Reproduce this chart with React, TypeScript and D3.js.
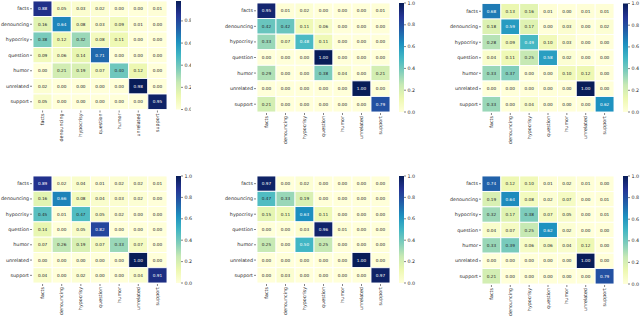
import React, { useEffect, useRef } from 'react';
import * as d3 from 'd3';

const labels = ['facts', 'denouncing', 'hypocrisy', 'question', 'humor', 'unrelated', 'support'];

const matrixA = [
  [0.88, 0.05, 0.03, 0.02, 0.00, 0.00, 0.01],
  [0.16, 0.64, 0.08, 0.03, 0.09, 0.01, 0.00],
  [0.38, 0.12, 0.32, 0.08, 0.11, 0.00, 0.00],
  [0.09, 0.06, 0.14, 0.71, 0.00, 0.00, 0.00],
  [0.00, 0.21, 0.19, 0.07, 0.40, 0.12, 0.00],
  [0.02, 0.00, 0.00, 0.00, 0.00, 0.98, 0.00],
  [0.05, 0.00, 0.00, 0.00, 0.00, 0.00, 0.95],
];
const matrixB = [
  [0.95, 0.01, 0.02, 0.00, 0.00, 0.00, 0.01],
  [0.42, 0.42, 0.11, 0.06, 0.00, 0.00, 0.00],
  [0.33, 0.07, 0.48, 0.11, 0.00, 0.00, 0.00],
  [0.00, 0.00, 0.00, 1.00, 0.00, 0.00, 0.00],
  [0.29, 0.00, 0.00, 0.38, 0.04, 0.00, 0.21],
  [0.00, 0.00, 0.00, 0.00, 0.00, 1.00, 0.00],
  [0.21, 0.00, 0.00, 0.00, 0.00, 0.00, 0.79],
];
const matrixC = [
  [0.68, 0.13, 0.16, 0.01, 0.00, 0.01, 0.01],
  [0.18, 0.59, 0.17, 0.00, 0.03, 0.00, 0.02],
  [0.28, 0.09, 0.49, 0.10, 0.03, 0.00, 0.00],
  [0.04, 0.11, 0.25, 0.58, 0.02, 0.00, 0.00],
  [0.33, 0.37, 0.00, 0.00, 0.10, 0.12, 0.00],
  [0.00, 0.00, 0.00, 0.00, 0.00, 1.00, 0.00],
  [0.33, 0.00, 0.04, 0.00, 0.00, 0.00, 0.62],
];
const matrixD = [
  [0.89, 0.02, 0.04, 0.01, 0.02, 0.02, 0.01],
  [0.16, 0.66, 0.08, 0.04, 0.03, 0.02, 0.00],
  [0.45, 0.01, 0.47, 0.05, 0.02, 0.00, 0.00],
  [0.14, 0.00, 0.05, 0.82, 0.00, 0.00, 0.00],
  [0.07, 0.26, 0.19, 0.07, 0.33, 0.07, 0.00],
  [0.00, 0.00, 0.00, 0.00, 0.00, 1.00, 0.00],
  [0.04, 0.00, 0.02, 0.00, 0.00, 0.04, 0.91],
];
const matrixE = [
  [0.97, 0.00, 0.02, 0.00, 0.00, 0.00, 0.00],
  [0.47, 0.33, 0.19, 0.00, 0.00, 0.00, 0.00],
  [0.15, 0.11, 0.63, 0.11, 0.00, 0.00, 0.00],
  [0.00, 0.00, 0.03, 0.96, 0.01, 0.00, 0.00],
  [0.25, 0.00, 0.50, 0.25, 0.00, 0.00, 0.00],
  [0.00, 0.00, 0.00, 0.00, 0.00, 1.00, 0.00],
  [0.00, 0.03, 0.00, 0.00, 0.00, 0.00, 0.97],
];
const matrixF = [
  [0.74, 0.12, 0.10, 0.01, 0.02, 0.01, 0.00],
  [0.19, 0.64, 0.08, 0.02, 0.07, 0.00, 0.01],
  [0.32, 0.17, 0.38, 0.07, 0.05, 0.00, 0.01],
  [0.04, 0.07, 0.25, 0.62, 0.02, 0.00, 0.00],
  [0.33, 0.39, 0.06, 0.06, 0.04, 0.12, 0.00],
  [0.00, 0.00, 0.00, 0.00, 0.00, 1.00, 0.00],
  [0.21, 0.00, 0.00, 0.00, 0.00, 0.00, 0.79],
];

const colorbarTicks = [0, 0.2, 0.4, 0.6, 0.8, 1.0];

// matplotlib YlGnBu (ColorBrewer 9-class, linear)
const ylgnbu = ['#ffffd9', '#edf8b1', '#c7e9b4', '#7fcdbb', '#41b6c4', '#1d91c0', '#225ea8', '#253494', '#081d58'];

const matrices = [matrixA, matrixB, matrixC, matrixD, matrixE, matrixF];

// panel frames (cell area) in page pixels
const frames = [
  { x0: 33, x1: 167, y0: 1, y1: 109.5, clip: 191 },
  { x0: 257, x1: 390, y0: 3, y1: 112, clip: 450 },
  { x0: 482, x1: 614, y0: 3.5, y1: 112, clip: 640 },
  { x0: 33, x1: 167, y0: 176, y1: 283, clip: 193 },
  { x0: 257, x1: 390, y0: 176, y1: 283, clip: 450 },
  { x0: 482, x1: 614, y0: 176, y1: 284, clip: 640 },
];

const FONT = '"DejaVu Sans", sans-serif';

const luminance = (c: string) => {
  const rgb = d3.rgb(c);
  const f = (v: number) => {
    const s = v / 255;
    return s <= 0.03928 ? s / 12.92 : Math.pow((s + 0.055) / 1.055, 2.4);
  };
  return 0.2126 * f(rgb.r) + 0.7152 * f(rgb.g) + 0.0722 * f(rgb.b);
};

const App: React.FC = () => {
  const svgRef = useRef<SVGSVGElement>(null);

  useEffect(() => {
    if (!svgRef.current) return;
    const svg = d3.select(svgRef.current);
    svg.selectAll('*').remove();
    const defs = svg.append('defs');

    matrices.forEach((m, pi) => {
      const fr = frames[pi];
      const vmax = d3.max(m.flat()) as number;
      const color = d3.scaleLinear<string>()
        .domain(d3.range(ylgnbu.length).map(i => (i / (ylgnbu.length - 1)) * vmax))
        .range(ylgnbu)
        .interpolate(d3.interpolateRgb);

      defs.append('clipPath').attr('id', `clip${pi}`)
        .append('rect')
        .attr('x', fr.x0 - 60).attr('y', fr.y0 - 10)
        .attr('width', fr.clip - (fr.x0 - 60)).attr('height', 200);

      const g = svg.append('g').attr('clip-path', `url(#clip${pi})`);

      const x = d3.scaleBand<string>().domain(labels).range([fr.x0, fr.x1]);
      const y = d3.scaleBand<string>().domain(labels).range([fr.y0, fr.y1]);

      m.forEach((row, ri) => {
        row.forEach((v, ci) => {
          const fill = color(v);
          g.append('rect')
            .attr('x', x(labels[ci])!)
            .attr('y', y(labels[ri])!)
            .attr('width', x.bandwidth())
            .attr('height', y.bandwidth())
            .attr('fill', fill)
            .attr('stroke', '#fff')
            .attr('stroke-width', 0.9);
          g.append('text')
            .attr('x', x(labels[ci])! + x.bandwidth() / 2)
            .attr('y', y(labels[ri])! + y.bandwidth() / 2)
            .attr('text-anchor', 'middle')
            .attr('dominant-baseline', 'central')
            .style('font-family', FONT)
            .style('font-size', '4.2px')
            .style('fill', luminance(fill) > 0.408 ? '#262626' : '#fff')
            .text(v.toFixed(2));
        });
      });

      // y tick labels
      labels.forEach(l => {
        const cy = y(l)! + y.bandwidth() / 2;
        g.append('line')
          .attr('x1', fr.x0 - 3).attr('x2', fr.x0 - 1)
          .attr('y1', cy).attr('y2', cy)
          .attr('stroke', '#333').attr('stroke-width', 0.6);
        g.append('text')
          .attr('x', fr.x0 - 4)
          .attr('y', cy)
          .attr('text-anchor', 'end')
          .attr('dominant-baseline', 'central')
          .style('font-family', FONT)
          .style('font-size', '4.8px')
          .style('fill', '#262626')
          .text(l);
      });

      // x tick labels (rotated)
      labels.forEach(l => {
        const cx = x(l)! + x.bandwidth() / 2;
        g.append('line')
          .attr('x1', cx).attr('x2', cx)
          .attr('y1', fr.y1 + 1).attr('y2', fr.y1 + 3)
          .attr('stroke', '#333').attr('stroke-width', 0.6);
        g.append('text')
          .attr('transform', `translate(${cx},${fr.y1 + 4}) rotate(-90)`)
          .attr('text-anchor', 'end')
          .attr('dominant-baseline', 'central')
          .style('font-family', FONT)
          .style('font-size', '4.8px')
          .style('fill', '#262626')
          .text(l);
      });

      // colorbar
      const cbX = fr.x1 + 9;
      const cbW = 5;
      const cbScale = d3.scaleLinear().domain([0, vmax]).range([fr.y1, fr.y0]);
      const grad = defs.append('linearGradient').attr('id', `grad${pi}`)
        .attr('x1', 0).attr('y1', 1).attr('x2', 0).attr('y2', 0);
      ylgnbu.forEach((c, i) => {
        grad.append('stop')
          .attr('offset', `${(i / (ylgnbu.length - 1)) * 100}%`)
          .attr('stop-color', c);
      });
      g.append('rect')
        .attr('x', cbX).attr('y', fr.y0)
        .attr('width', cbW).attr('height', fr.y1 - fr.y0)
        .attr('fill', `url(#grad${pi})`);
      colorbarTicks.filter(t => t <= vmax + 1e-9).forEach(t => {
        const ty = cbScale(t);
        g.append('line')
          .attr('x1', cbX + cbW).attr('x2', cbX + cbW + 2)
          .attr('y1', ty).attr('y2', ty)
          .attr('stroke', '#333').attr('stroke-width', 0.6);
        g.append('text')
          .attr('x', cbX + cbW + 3.5)
          .attr('y', ty)
          .attr('dominant-baseline', 'central')
          .style('font-family', FONT)
          .style('font-size', '4.8px')
          .style('fill', '#262626')
          .text(t.toFixed(1));
      });
    });
  }, []);

  return (
    <svg
      ref={svgRef}
      width={640}
      height={317}
      style={{ position: 'absolute', left: 0, top: 0, background: '#fff' }}
    />
  );
};

export default App;
